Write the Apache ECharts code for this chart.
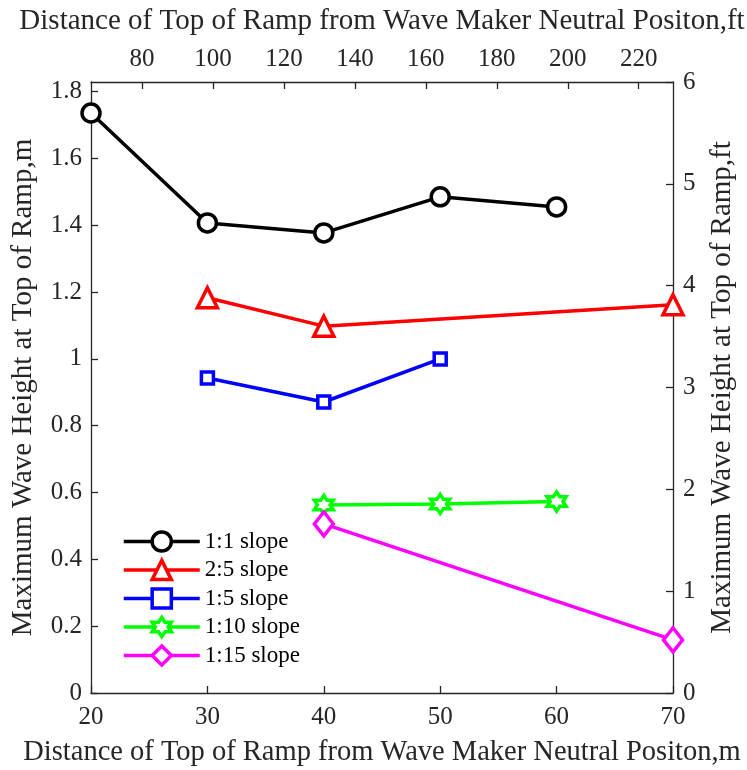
<!DOCTYPE html>
<html>
<head>
    <meta charset="utf-8">
    <script type="text/javascript" src="https://cdn.jsdelivr.net/npm/echarts@6/dist/echarts.min.js"></script>
    <style>body{margin:0;background:#fff}</style>
</head>
<body>
    <div id="main" style="width: 747px;height:770px;"></div>
    <script type="text/javascript">
    // distance (m) and max wave height (m)
    let slope11 = [[20, 1.736], [30, 1.407], [40, 1.377], [50, 1.485], [60, 1.455]]
    let slope25 = [[30, 1.183], [40, 1.098], [70, 1.162]]
    let slope15 = [[30, 0.943], [40, 0.871], [50, 1.0]]
    let slope110 = [[40, 0.563], [50, 0.566], [60, 0.573]]
    let slope115 = [[40, 0.506], [70, 0.159]]
    let names = ['1:1 slope', '2:5 slope', '1:5 slope', '1:10 slope', '1:15 slope']
    let ftTicks = [80, 100, 120, 140, 160, 180, 200, 220]
    let mTicks = [0, 0.2, 0.4, 0.6, 0.8, 1, 1.2, 1.4, 1.6, 1.8]
    let FT = 0.3048
    let _text = '#262626'
    let font = 'Liberation Serif'

    // hexagram symbol
    function hexagram() {
        let pts = []
        for (let i = 0; i < 12; i++) {
            let r = i % 2 == 0 ? 50 : 28.87
            let a = Math.PI / 2 + i * Math.PI / 6
            pts.push((50 + r * Math.cos(a)).toFixed(2) + ' ' + (50 - r * Math.sin(a)).toFixed(2))
        }
        return 'path://M' + pts.join(' L') + ' Z'
    }

    function mkSeries(name, data, color, symbol, size) {
        return {
            name: name,
            type: 'line',
            data: data,
            symbol: symbol,
            symbolSize: size,
            showAllSymbol: true,
            lineStyle: { color: color, width: 3.5 },
            itemStyle: { color: '#fff', borderColor: color, borderWidth: 3.5 },
            emphasis: { disabled: true },
            z: 3
        }
    }

    var myChart = echarts.init(document.getElementById('main'))
    let axisCommon = {
        axisLine: { show: true, onZero: false, lineStyle: { color: _text, width: 1.3 } },
        axisTick: { show: true, inside: true, length: 7, lineStyle: { color: _text, width: 1.3 } },
        splitLine: { show: false },
        axisLabel: { color: _text, fontFamily: font, fontSize: 25 },
        nameTextStyle: { color: _text, fontFamily: font, fontSize: 29 },
        nameLocation: 'middle'
    }
    option = {
        animation: false,
        backgroundColor: '#fff',
        grid: { left: 91, right: 74, top: 82, bottom: 77, containLabel: false, outerBoundsMode: 'none' },
        legend: {
            left: 117,
            top: 525,
            orient: 'vertical',
            itemWidth: 76,
            itemHeight: 24,
            itemGap: 5.5,
            lineStyle: { width: 3.5 },
            itemStyle: { borderWidth: 3.5 },
            textStyle: { color: '#000', fontFamily: font, fontSize: 23 },
            data: names
        },
        xAxis: [Object.assign({}, axisCommon, {
            type: 'value',
            position: 'bottom',
            min: 20,
            max: 70,
            interval: 10,
            name: 'Distance of Top of Ramp from Wave Maker Neutral Positon,m',
            nameGap: 45,
            nameTextStyle: Object.assign({}, axisCommon.nameTextStyle, { fontSize: 28.5 }),
            axisLabel: Object.assign({}, axisCommon.axisLabel, { margin: 12 })
        }), Object.assign({}, axisCommon, {
            type: 'value',
            position: 'top',
            min: 20 / FT,
            max: 70 / FT,
            name: 'Distance of Top of Ramp from Wave Maker Neutral Positon,ft',
            nameGap: 46,
            axisTick: Object.assign({}, axisCommon.axisTick, { customValues: ftTicks }),
            axisLabel: Object.assign({}, axisCommon.axisLabel, { customValues: ftTicks, margin: 10 })
        })],
        yAxis: [Object.assign({}, axisCommon, {
            type: 'value',
            position: 'left',
            min: 0,
            max: 6 * FT,
            name: 'Maximum Wave Height at Top of Ramp,m',
            nameGap: 53,
            axisTick: Object.assign({}, axisCommon.axisTick, { customValues: mTicks }),
            axisLabel: Object.assign({}, axisCommon.axisLabel, { customValues: mTicks, margin: 9 })
        }), Object.assign({}, axisCommon, {
            type: 'value',
            position: 'right',
            min: 0,
            max: 6,
            interval: 1,
            name: 'Maximum Wave Height at Top of Ramp,ft',
            nameGap: 35,
            axisLabel: Object.assign({}, axisCommon.axisLabel, { margin: 10 })
        })],
        series: [
            mkSeries(names[0], slope11, '#000000', 'circle', 18),
            mkSeries(names[1], slope25, '#ff0000', 'triangle', 20),
            mkSeries(names[2], slope15, '#0000ff', 'rect', 12),
            mkSeries(names[3], slope110, '#00ff00', hexagram(), 19),
            mkSeries(names[4], slope115, '#ff00ff', 'diamond', [19, 24])
        ]
    }
    myChart.setOption(option)
    </script>
</body>
</html>
